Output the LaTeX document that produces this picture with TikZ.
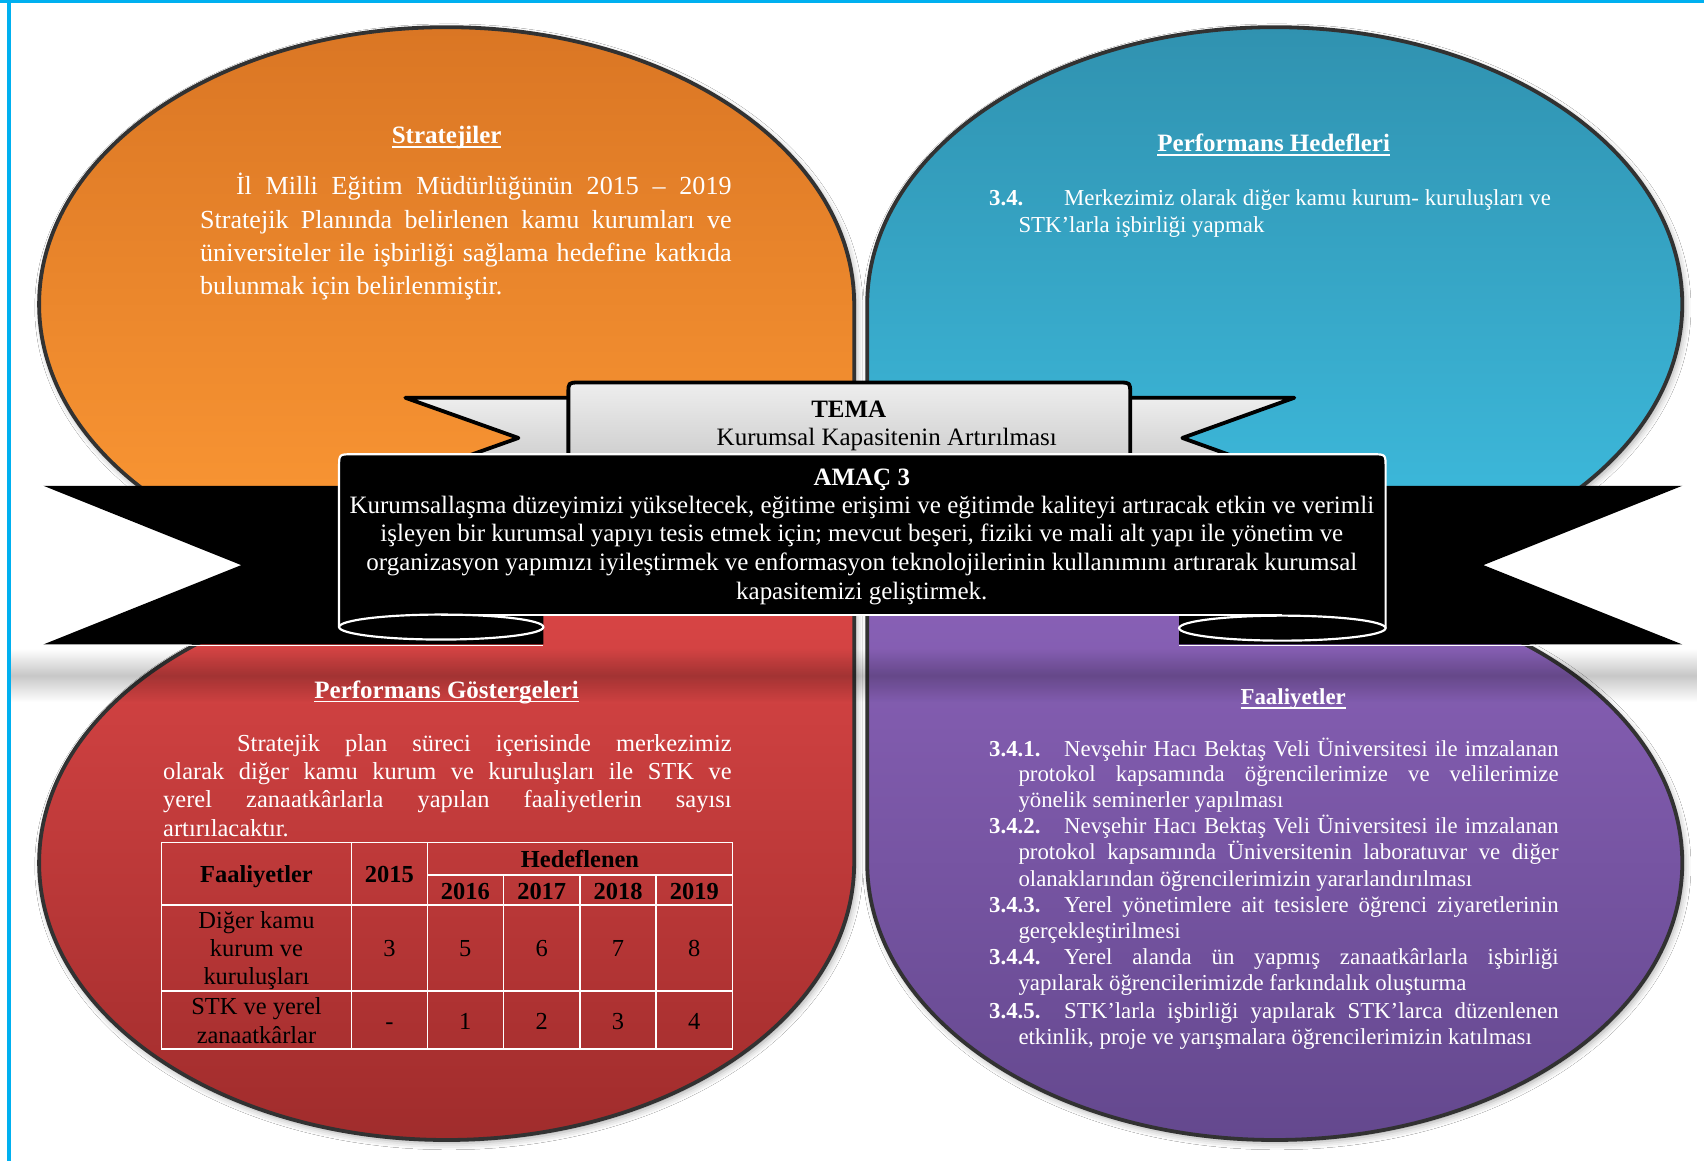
\documentclass[tikz,border=0pt]{standalone}
\usepackage{fontspec}
\setmainfont{Liberation Serif}
\usetikzlibrary{fadings,shadows.blur}
\tikzfading[name=shfade, top color=transparent!100, bottom color=transparent!100, middle color=transparent!0]
\definecolor{frameblue}{RGB}{0,176,240}
\definecolor{orA}{RGB}{218,118,36}
\definecolor{orB}{RGB}{253,153,53}
\definecolor{blA}{RGB}{48,146,176}
\definecolor{blB}{RGB}{62,190,225}
\definecolor{rdA}{RGB}{218,70,70}
\definecolor{rdB}{RGB}{160,44,44}
\definecolor{puA}{RGB}{137,97,183}
\definecolor{puB}{RGB}{100,72,142}
\definecolor{shapeedge}{RGB}{50,50,50}
\definecolor{grA}{RGB}{238,238,238}
\definecolor{grB}{RGB}{198,198,198}
\newcommand\jline[2]{\makebox[#1pt][s]{#2}}
\newcommand\myuline[1]{\setbox0\hbox{#1}\rlap{\rule[-4pt]{\wd0}{1.6pt}}\box0}
\begin{document}
\begin{tikzpicture}[x=1pt,y=-1pt,
  quad/.style={draw=shapeedge, line width=3.5pt, blur shadow={shadow xshift=2pt, shadow yshift=-3pt, shadow blur radius=6pt, shadow opacity=35}},
  temapart/.style={draw=black, line width=3.5pt, line join=round, top color=grA, bottom color=grB},
  wtxt/.style={text=white, inner sep=0pt, yshift=-5pt},
  btxt/.style={text=black, inner sep=0pt, yshift=-5pt},
  fA/.style={font=\fontsize{24}{29}\selectfont},
  fH/.style={font=\fontsize{23}{28}\selectfont\bfseries},
  fM/.style={font=\fontsize{22.5}{27}\selectfont},
  fMb/.style={font=\fontsize{22.5}{27}\selectfont\bfseries},
  fS/.style={font=\fontsize{21}{25}\selectfont},
  fSb/.style={font=\fontsize{21}{25}\selectfont\bfseries},
  fR/.style={font=\fontsize{23}{27}\selectfont},
  fRb/.style={font=\fontsize{23}{27}\selectfont\bfseries},
  tline/.style={draw=white, line width=1.3pt},
]
\useasboundingbox (0,0) rectangle (1568,1068);
\fill[white] (0,0) rectangle (1568,1068);
% frame
\fill[frameblue] (0,0) rectangle (1568,3);
\fill[frameblue] (6,0) rectangle (10,1068);

% four quadrant shapes
\path[quad, top color=orA, bottom color=orB] (786,280) arc[start angle=0, end angle=-270, x radius=375, y radius=255] -- (786,535) -- cycle;
\path[quad, top color=blA, bottom color=blB] (798,280) arc[start angle=180, end angle=450, x radius=375, y radius=255] -- (798,535) -- cycle;
\path[quad, top color=rdA, bottom color=rdB] (786,794) arc[start angle=0, end angle=270, x radius=375, y radius=255] -- (786,539) -- cycle;
\path[quad, top color=puA, bottom color=puB] (798,794) arc[start angle=180, end angle=-90, x radius=375, y radius=255] -- (798,539) -- cycle;

% TEMA ribbon
\path[temapart] (373,366) -- (540,366) -- (540,440) -- (373,440) -- (477,403) -- cycle;
\path[temapart] (1191,366) -- (1020,366) -- (1020,440) -- (1191,440) -- (1088,403) -- cycle;
\path[temapart] (523,440) -- (523,362) .. controls (523,352) .. (533,352) -- (1030,352) .. controls (1040,352) .. (1040,362) -- (1040,440) -- cycle;

% AMAC ribbon tails
\fill[black] (40,447) -- (500,447) -- (500,593) -- (40,593) -- (222,520) -- cycle;
\fill[black] (1548,447) -- (1085,447) -- (1085,593) -- (1548,593) -- (1365,520) -- cycle;
\draw[white, line width=1pt] (40,594) -- (500,594);
\draw[white, line width=1pt] (1085,594) -- (1548,594);
% shadow under ribbon
\fill[black, opacity=0.22, path fading=shfade] (12,597) rectangle (1566,646);

% AMAC box
\fill[black] (312,577) -- (312,430) .. controls (312,418) .. (324,418) -- (1263,418) .. controls (1275,418) .. (1275,430) -- (1275,578) -- (1180,566) -- (406,566) -- cycle;
\path[draw=white, line width=2pt, fill=black] (406,577) ellipse [x radius=94, y radius=11.5];
\path[draw=white, line width=2pt, fill=black] (1180,578) ellipse [x radius=95, y radius=11.5];
\draw[white, line width=2pt] (312,577) -- (312,430) .. controls (312,418) .. (324,418) -- (1263,418) .. controls (1275,418) .. (1275,430) -- (1275,578);
\draw[white, line width=2pt] (406,566) -- (1180,566);

% TEMA text
\node[btxt, fRb, anchor=mid] (tema) at (781,377) {TEMA};
\node[btxt, fR, anchor=mid] (temat) at (816,403) {Kurumsal Kapasitenin Artırılması};

% AMAC text
\node[wtxt, fRb, anchor=mid] (amac) at (793,439) {AMAÇ 3};
\node[wtxt, fR, anchor=mid] (a1) at (793,465) {Kurumsallaşma düzeyimizi yükseltecek, eğitime erişimi ve eğitimde kaliteyi artıracak etkin ve verimli};
\node[wtxt, fR, anchor=mid] (a2) at (793,491) {işleyen bir kurumsal yapıyı tesis etmek için; mevcut beşeri, fiziki ve mali alt yapı ile yönetim ve};
\node[wtxt, fR, anchor=mid] (a3) at (793,518) {organizasyon yapımızı iyileştirmek ve enformasyon teknolojilerinin kullanımını artırarak kurumsal};
\node[wtxt, fR, anchor=mid] (a4) at (793,544) {kapasitemizi geliştirmek.};

% Stratejiler
\node[wtxt, fH, anchor=mid] (h1) at (411,125) {\myuline{Stratejiler}};
\node[wtxt, fA, anchor=mid west] (s1) at (217,172) {\jline{456}{İl Milli Eğitim Müdürlüğünün 2015 – 2019}};
\node[wtxt, fA, anchor=mid west] (s2) at (184,203) {\jline{489}{Stratejik Planında belirlenen kamu kurumları ve}};
\node[wtxt, fA, anchor=mid west] (s3) at (184,233) {\jline{489}{üniversiteler ile işbirliği sağlama hedefine katkıda}};
\node[wtxt, fA, anchor=mid west] (s4) at (184,264) {bulunmak için belirlenmiştir.};

% Performans Hedefleri
\node[wtxt, fH, anchor=mid] (h2) at (1172,132) {\myuline{Performans Hedefleri}};
\node[wtxt, fSb, anchor=mid west] (p0) at (910,182) {3.4.};
\node[wtxt, fS, anchor=mid west] (p1) at (979,182) {Merkezimiz olarak diğer kamu kurum- kuruluşları ve};
\node[wtxt, fS, anchor=mid west] (p2) at (937,207) {STK’larla işbirliği yapmak};

% Performans Gostergeleri
\node[wtxt, fH, anchor=mid] (h3) at (411,635) {\myuline{Performans Göstergeleri}};
\node[wtxt, fM, anchor=mid west] (g1) at (218,684) {\jline{455}{Stratejik plan süreci içerisinde merkezimiz}};
\node[wtxt, fM, anchor=mid west] (g2) at (150,710) {\jline{523}{olarak diğer kamu kurum ve kuruluşları ile STK ve}};
\node[wtxt, fM, anchor=mid west] (g3) at (150,736) {\jline{523}{yerel zanaatkârlarla yapılan faaliyetlerin sayısı}};
\node[wtxt, fM, anchor=mid west] (g4) at (150,762) {artırılacaktır.};

% table
\draw[tline] (148.4,775.5) rectangle (674.1,965.3);
\draw[tline] (393.2,805.2) -- (674.1,805.2);
\draw[tline] (148.4,832.8) -- (674.1,832.8);
\draw[tline] (148.4,912) -- (674.1,912);
\draw[tline] (323.3,775.5) -- (323.3,965.3);
\draw[tline] (393.2,775.5) -- (393.2,965.3);
\draw[tline] (463.2,805.2) -- (463.2,965.3);
\draw[tline] (533.7,805.2) -- (533.7,965.3);
\draw[tline] (603.6,805.2) -- (603.6,965.3);
\node[btxt, fMb, anchor=mid] (th1) at (236,805) {Faaliyetler};
\node[btxt, fMb, anchor=mid] (th2) at (358.3,805) {2015};
\node[btxt, fMb, anchor=mid] (th3) at (533.7,791) {Hedeflenen};
\node[btxt, fMb, anchor=mid] (y16) at (428.2,820) {2016};
\node[btxt, fMb, anchor=mid] (y17) at (498.5,820) {2017};
\node[btxt, fMb, anchor=mid] (y18) at (568.7,820) {2018};
\node[btxt, fMb, anchor=mid] (y19) at (638.9,820) {2019};
\node[btxt, fM, anchor=mid] (r1a) at (236,847) {Diğer kamu};
\node[btxt, fM, anchor=mid] (r1b) at (236,873) {kurum ve};
\node[btxt, fM, anchor=mid] (r1c) at (236,899) {kuruluşları};
\node[btxt, fM, anchor=mid] (v11) at (358.3,873) {3};
\node[btxt, fM, anchor=mid] (v12) at (428.2,873) {5};
\node[btxt, fM, anchor=mid] (v13) at (498.5,873) {6};
\node[btxt, fM, anchor=mid] (v14) at (568.7,873) {7};
\node[btxt, fM, anchor=mid] (v15) at (638.9,873) {8};
\node[btxt, fM, anchor=mid] (r2a) at (236,926) {STK ve yerel};
\node[btxt, fM, anchor=mid] (r2b) at (236,953) {zanaatkârlar};
\node[btxt, fM, anchor=mid] (v21) at (358.3,940) {-};
\node[btxt, fM, anchor=mid] (v22) at (428.2,940) {1};
\node[btxt, fM, anchor=mid] (v23) at (498.5,940) {2};
\node[btxt, fM, anchor=mid] (v24) at (568.7,940) {3};
\node[btxt, fM, anchor=mid] (v25) at (638.9,940) {4};

% Faaliyetler
\node[wtxt, fSb, anchor=mid] (h4) at (1190,641) {\myuline{Faaliyetler}};
\node[wtxt, fSb, anchor=mid west] (n1) at (910,689) {3.4.1.};
\node[wtxt, fS, anchor=mid west] (f1) at (979,689) {\jline{455}{Nevşehir Hacı Bektaş Veli Üniversitesi ile imzalanan}};
\node[wtxt, fS, anchor=mid west] (f2) at (937,712) {\jline{497}{protokol kapsamında öğrencilerimize ve velilerimize}};
\node[wtxt, fS, anchor=mid west] (f3) at (937,736) {yönelik seminerler yapılması};
\node[wtxt, fSb, anchor=mid west] (n2) at (910,760) {3.4.2.};
\node[wtxt, fS, anchor=mid west] (f4) at (979,760) {\jline{455}{Nevşehir Hacı Bektaş Veli Üniversitesi ile imzalanan}};
\node[wtxt, fS, anchor=mid west] (f5) at (937,784) {\jline{497}{protokol kapsamında Üniversitenin laboratuvar ve diğer}};
\node[wtxt, fS, anchor=mid west] (f6) at (937,808) {olanaklarından öğrencilerimizin yararlandırılması};
\node[wtxt, fSb, anchor=mid west] (n3) at (910,832) {3.4.3.};
\node[wtxt, fS, anchor=mid west] (f7) at (979,832) {\jline{455}{Yerel yönetimlere ait tesislere öğrenci ziyaretlerinin}};
\node[wtxt, fS, anchor=mid west] (f8) at (937,856) {gerçekleştirilmesi};
\node[wtxt, fSb, anchor=mid west] (n4) at (910,880) {3.4.4.};
\node[wtxt, fS, anchor=mid west] (f9) at (979,880) {\jline{455}{Yerel alanda ün yapmış zanaatkârlarla işbirliği}};
\node[wtxt, fS, anchor=mid west] (f10) at (937,904) {yapılarak öğrencilerimizde farkındalık oluşturma};
\node[wtxt, fSb, anchor=mid west] (n5) at (910,930) {3.4.5.};
\node[wtxt, fS, anchor=mid west] (f11) at (979,930) {\jline{455}{STK’larla işbirliği yapılarak STK’larca düzenlenen}};
\node[wtxt, fS, anchor=mid west] (f12) at (937,954) {etkinlik, proje ve yarışmalara öğrencilerimizin katılması};
\end{tikzpicture}
\end{document}
